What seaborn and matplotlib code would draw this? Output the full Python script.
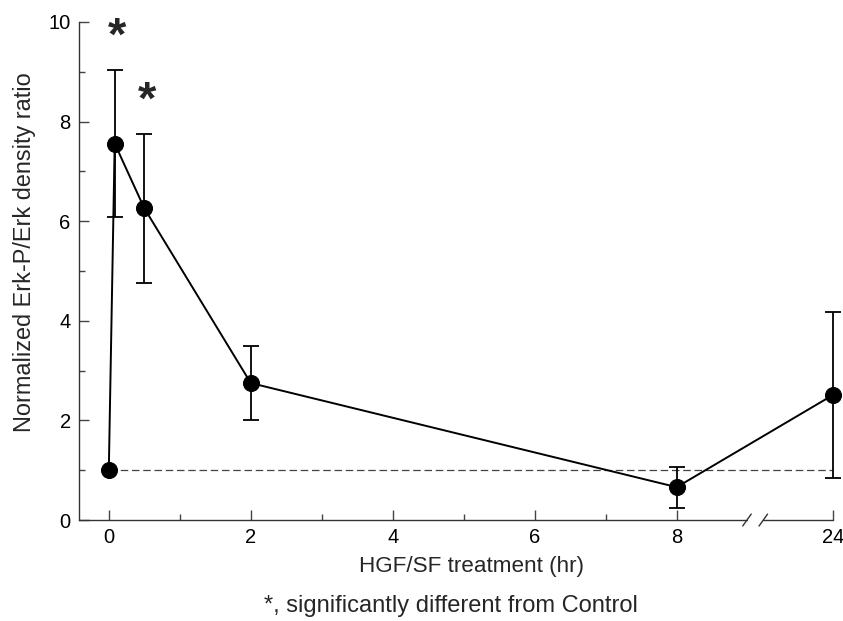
import matplotlib
matplotlib.use("Agg")
import matplotlib.pyplot as plt
from matplotlib.ticker import FixedLocator
import seaborn as sns
import pandas as pd
import numpy as np

# ---- data ----
times_hr = [0, 0.083, 0.5, 2, 8, 24]
ratio = [1.0, 7.56, 6.26, 2.75, 0.66, 2.51]
err = [0.0, 1.48, 1.50, 0.74, 0.41, 1.66]
significant = [False, True, True, False, False, False]
tick_values = [0, 2, 4, 6, 8, 24]
control_level = 1.0

# broken axis: 0..8 linear, 24 drawn after the break
BREAK_POS = 10.2
def to_pos(t):
    return t if t <= 8 else BREAK_POS

df = pd.DataFrame({"t": times_hr, "ratio": ratio, "err": err})
df["pos"] = [to_pos(t) for t in times_hr]

sns.set_style("ticks")
plt.rcParams["font.family"] = ["Liberation Sans", "DejaVu Sans"]

fig = plt.figure(figsize=(8.43, 6.21), dpi=100)
ax = fig.add_axes([0.0937, 0.1626, 0.988 - 0.0937, 0.9646 - 0.1626])

# dashed control line
ax.plot([0, BREAK_POS], [control_level, control_level], ls=(0, (6, 3)),
        color="#444444", lw=0.9, zorder=1, clip_on=False)

eb = ax.errorbar(df["pos"], df["ratio"], yerr=df["err"], fmt="none", ecolor="black",
                 elinewidth=1.3, capsize=6, capthick=1.3, zorder=2)
for art in eb.lines[1]:
    art.set_clip_on(False)
for art in eb.lines[2]:
    art.set_clip_on(False)
sns.lineplot(data=df, x="pos", y="ratio", color="black", lw=1.4, ax=ax,
             marker="o", markersize=11.5, markeredgecolor="black",
             markerfacecolor="black", sort=False, zorder=3, clip_on=False)

for p, y, e, s in zip(df["pos"], ratio, err, significant):
    if s:
        ax.text(p + 0.04, y + e + 0.64, "*", ha="center", va="center",
                fontsize=34, fontweight="bold", clip_on=False)

ax.set_xlim(-0.42, BREAK_POS)
ax.set_ylim(0, 10)
ax.set_xticks([to_pos(t) for t in tick_values])
ax.set_xticklabels([str(t) for t in tick_values])
ax.xaxis.set_minor_locator(FixedLocator([1, 3, 5, 7]))
ax.set_yticks([0, 2, 4, 6, 8, 10])
ax.yaxis.set_minor_locator(FixedLocator([1, 3, 5, 7, 9]))
ax.tick_params(which="major", direction="in", length=7, width=1, labelsize=14.5,
               color="#444444", labelcolor="black", pad=6)
ax.tick_params(which="minor", direction="in", length=4, width=1, color="#444444")

for side in ["top", "right"]:
    ax.spines[side].set_visible(False)
ax.spines["left"].set_color("#333333")
ax.spines["left"].set_linewidth(1)

# axis break on x
b0, b1 = 8.99, 9.22
ax.spines["bottom"].set_visible(False)
ax.plot([-0.42, b0], [0, 0], color="#333333", lw=1, clip_on=False, zorder=4)
ax.plot([b1, BREAK_POS], [0, 0], color="#333333", lw=1, clip_on=False, zorder=4)
for bx in (b0, b1):
    ax.plot([bx - 0.06, bx + 0.06], [-0.12, 0.12], color="#333333", lw=1,
            clip_on=False, zorder=4)

ax.set_xlabel("HGF/SF treatment (hr)", fontsize=16.2)
ax.xaxis.set_label_coords(0.52, -0.072)
ax.set_ylabel("Normalized Erk-P/Erk density ratio", fontsize=16.9)
ax.yaxis.set_label_coords(-0.057, 0.538)
fig.text(0.535, 0.0145, "*, significantly different from Control",
         ha="center", va="baseline", fontsize=17)

fig.savefig("out.png", dpi=100)
